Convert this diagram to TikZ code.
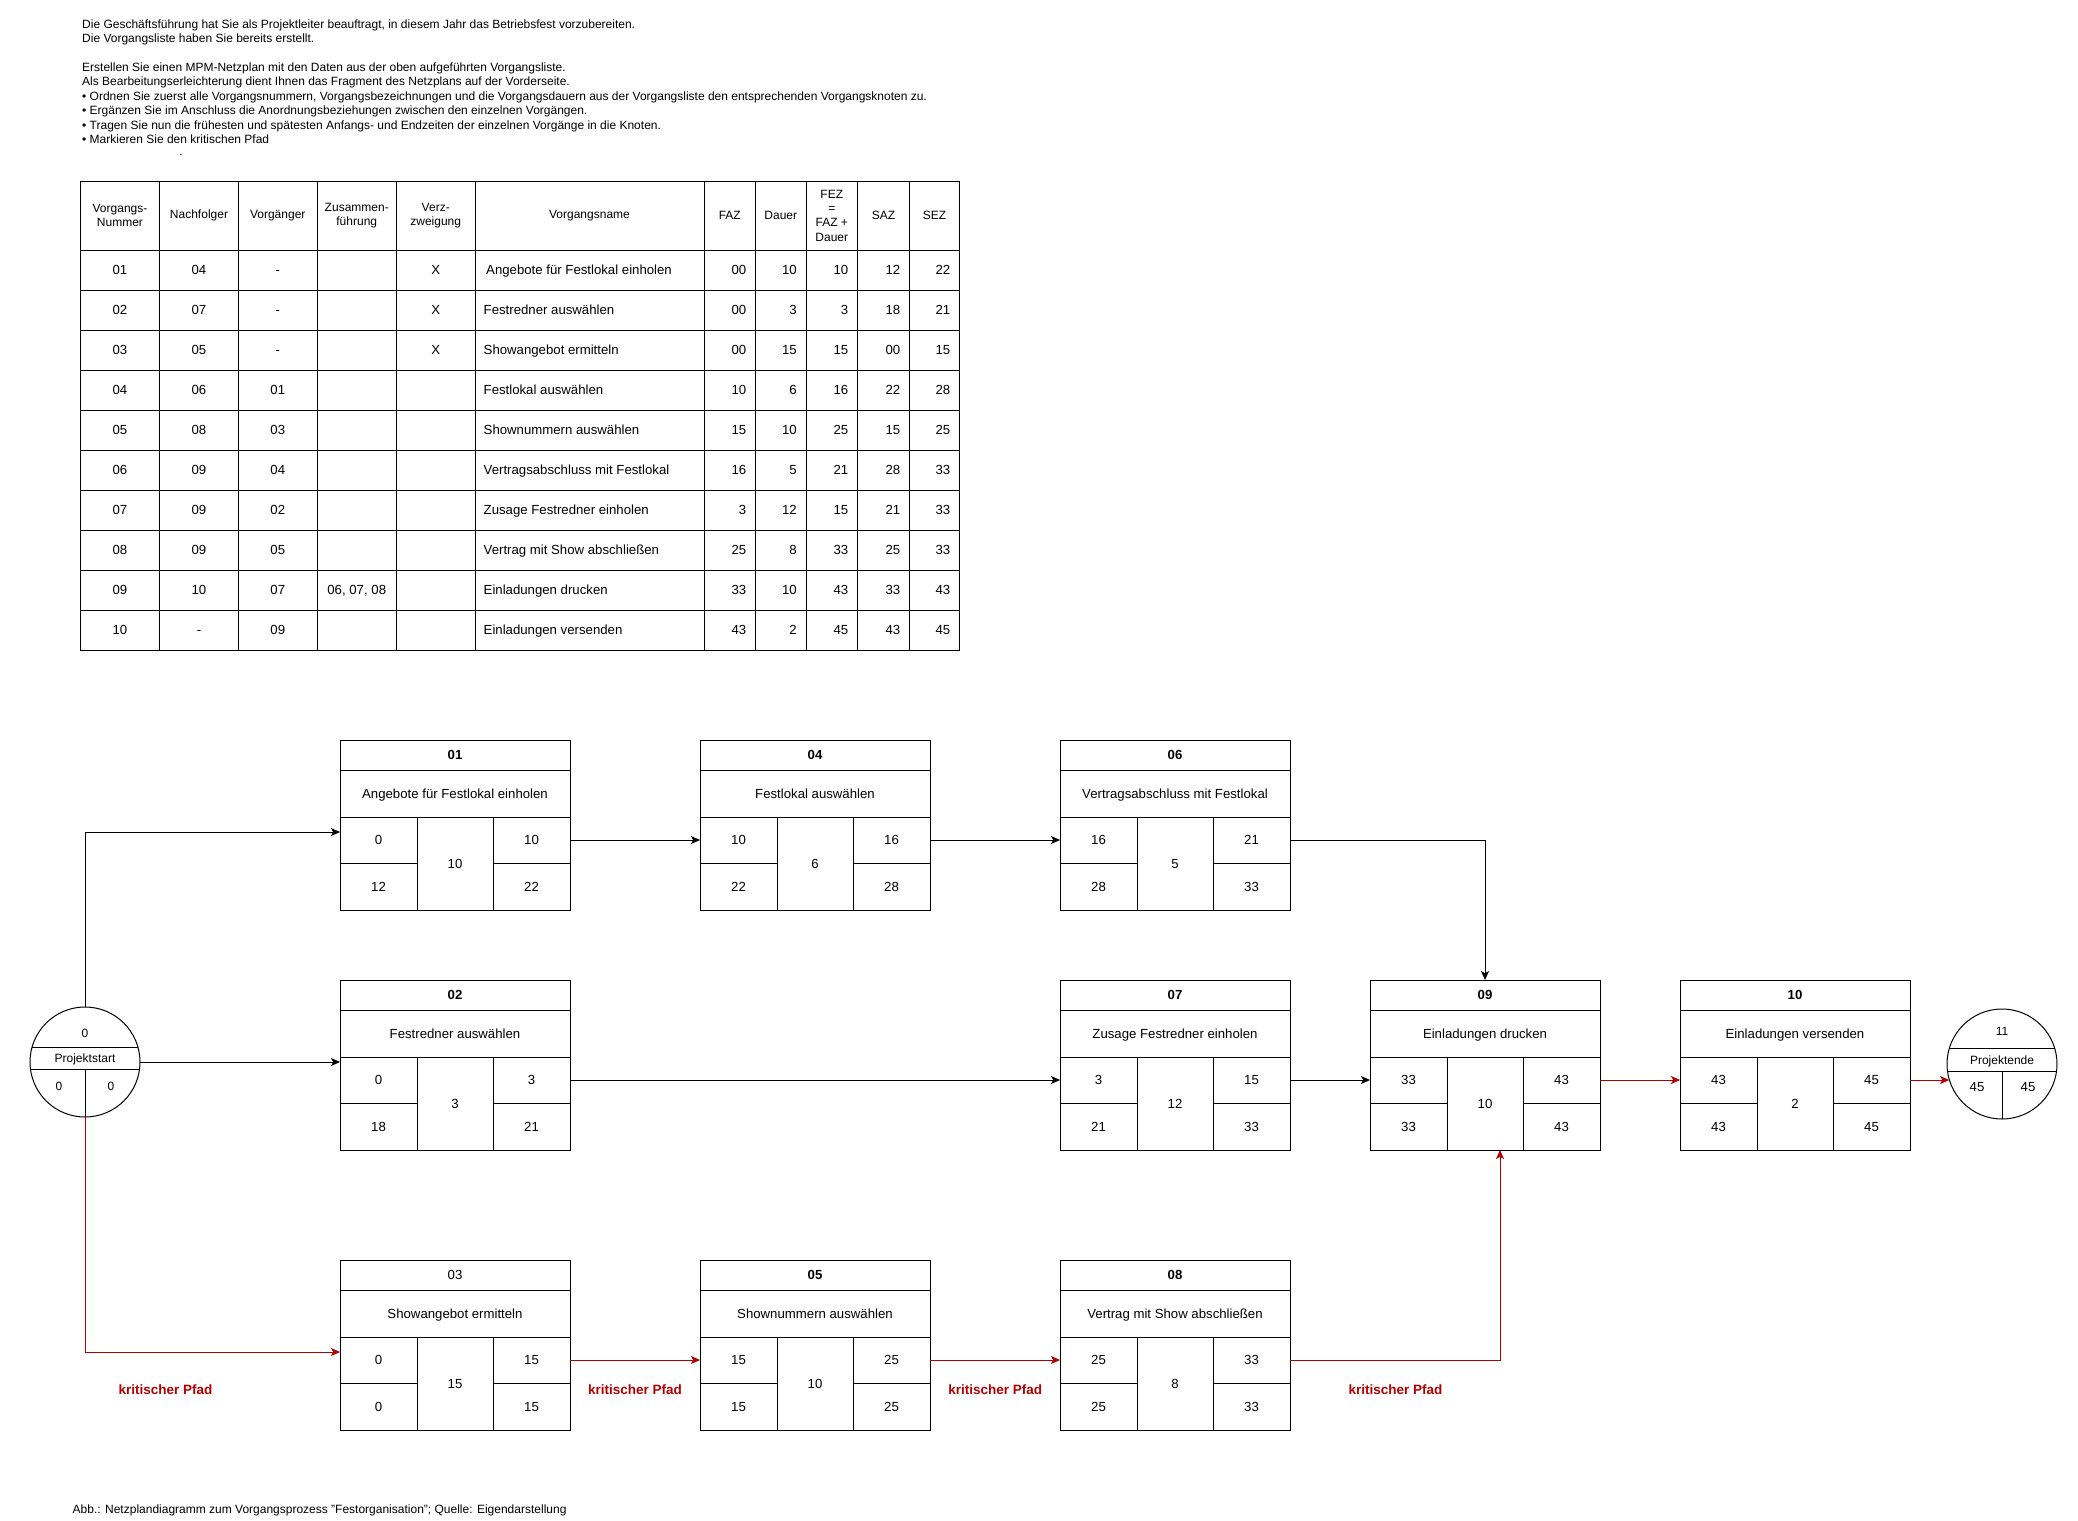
\documentclass[tikz,border=0pt]{standalone}
\usepackage{fontspec}
\setmainfont{Liberation Sans}
\usetikzlibrary{arrows.meta,calc}
\definecolor{critred}{HTML}{B20000}

\tikzset{
  frame/.style={line width=1pt},
  actbox/.style={draw, line width=1pt, minimum width=230pt, minimum height=170pt,
    inner sep=0pt, outer sep=0pt, anchor=north west},
  cell/.style={inner sep=0pt, font=\fontsize{13.2}{15}\selectfont, text height=9.45pt, text depth=0pt},
  small/.style={inner sep=0pt, font=\fontsize{12}{14.4}\selectfont, text height=8.6pt, text depth=0pt},
  headtext/.style={inner sep=0pt, align=center, font=\fontsize{12}{14.3}\selectfont},
  arr/.style={line width=1pt, -{Stealth[length=9pt, width=8pt, inset=2.2pt]}},
  crit/.style={arr, draw=critred, color=critred},
  critlabel/.style={inner sep=0pt, font=\fontsize{13.5}{15}\selectfont\bfseries, text=critred,
    text height=9.7pt, text depth=0pt},
}

% activity box: name, top-left corner, number, title, FAZ, duration, FEZ, SAZ, SEZ
\newcommand\actnode[9]{%
  \node[actbox] (#1) at (#2) {};
  \draw[frame]
    ($(#1.north west)+(0,30)$) -- ($(#1.north east)+(0,30)$)
    ($(#1.north west)+(0,77)$) -- ($(#1.north east)+(0,77)$)
    ($(#1.north west)+(77,77)$) -- ($(#1.south west)+(77,0)$)
    ($(#1.north west)+(153,77)$) -- ($(#1.south west)+(153,0)$)
    ($(#1.north west)+(0,123.5)$) -- ($(#1.north west)+(77,123.5)$)
    ($(#1.north west)+(153,123.5)$) -- ($(#1.north east)+(0,123.5)$);
  \node[cell] (#1-nr)  at ($(#1.north west)+(115,15)$) {#3};
  \node[cell] (#1-ttl) at ($(#1.north west)+(115,54)$) {#4};
  \node[cell] (#1-faz) at ($(#1.north west)+(38.5,100)$) {#5};
  \node[cell] (#1-dur) at ($(#1.north west)+(115,123.5)$) {#6};
  \node[cell] (#1-fez) at ($(#1.north west)+(191.5,100)$) {#7};
  \node[cell] (#1-saz) at ($(#1.north west)+(38.5,146.75)$) {#8};
  \node[cell] (#1-sez) at ($(#1.north west)+(191.5,146.75)$) {#9};
  \coordinate (#1-ol) at ($(#1.north west)+(0,100)$);
  \coordinate (#1-or) at ($(#1.north east)+(0,100)$);
}

\begin{document}
\begin{tikzpicture}[x=1pt, y=-1pt]
\fill[white] (0,0) rectangle (2078,1521);
\useasboundingbox (0,0) rectangle (2078,1521);

% ---------- task description ----------
\node[small, anchor=west] (intro1) at (82,24) {Die Geschäftsführung hat Sie als Projektleiter beauftragt, in diesem Jahr das Betriebsfest vorzubereiten.};
\node[small, anchor=west] (intro2) at (82,38.4) {Die Vorgangsliste haben Sie bereits erstellt.};
\node[small, anchor=west] (intro3) at (82,67.2) {Erstellen Sie einen MPM-Netzplan mit den Daten aus der oben aufgeführten Vorgangsliste.};
\node[small, anchor=west] (intro4) at (82,81.6) {Als Bearbeitungserleichterung dient Ihnen das Fragment des Netzplans auf der Vorderseite.};
\node[small, anchor=west] (intro5) at (82,96) {• Ordnen Sie zuerst alle Vorgangsnummern, Vorgangsbezeichnungen und die Vorgangsdauern aus der Vorgangsliste den entsprechenden Vorgangsknoten zu.};
\node[small, anchor=west] (intro6) at (82,110.4) {• Ergänzen Sie im Anschluss die Anordnungsbeziehungen zwischen den einzelnen Vorgängen.};
\node[small, anchor=west] (intro7) at (82,124.8) {• Tragen Sie nun die frühesten und spätesten Anfangs- und Endzeiten der einzelnen Vorgänge in die Knoten.};
\node[small, anchor=west] (intro8) at (82,139.2) {• Markieren Sie den kritischen Pfad};
\node[inner sep=0pt, font=\fontsize{12}{14.4}\selectfont, anchor=base] (intro9) at (181,155.5) {.};

% ---------- activity list ----------
\draw[frame] (80.5,181) rectangle (959.5,650);
\foreach \yy in {250,290,...,610} \draw[frame] (80.5,\yy) -- (959.5,\yy);
\foreach \xx in {159.5,238.5,317,396.5,475,704,755.5,806,857.5,909.5} \draw[frame] (\xx,181) -- (\xx,650);

\node[headtext] (th1)  at (120,215.5)    {Vorgangs-\\Nummer};
\node[headtext] (th2)  at (199,215.5)    {Nachfolger};
\node[headtext] (th3)  at (277.75,215.5) {Vorgänger};
\node[headtext] (th4)  at (356.75,215.5) {Zusammen-\\führung};
\node[headtext] (th5)  at (435.75,215.5) {Verz-\\zweigung};
\node[headtext] (th6)  at (589.5,215.5)  {Vorgangsname};
\node[headtext] (th7)  at (729.75,215.5) {FAZ};
\node[headtext] (th8)  at (780.75,215.5) {Dauer};
\node[headtext] (th9)  at (831.75,215.5) {FEZ\\=\\FAZ +\\Dauer};
\node[headtext] (th10) at (883.5,215.5)  {SAZ};
\node[headtext] (th11) at (934.5,215.5)  {SEZ};

\foreach \rw/\ca/\cb/\cc/\cd/\ce/\cf/\cg/\ch/\ci/\cj/\ck in {
  1/01/04/-/{}/X/{\hspace*{2.5pt}Angebote für Festlokal einholen}/00/10/10/12/22,
  2/02/07/-/{}/X/{Festredner auswählen}/00/3/3/18/21,
  3/03/05/-/{}/X/{Showangebot ermitteln}/00/15/15/00/15,
  4/04/06/01/{}/{}/{Festlokal auswählen}/10/6/16/22/28,
  5/05/08/03/{}/{}/{Shownummern auswählen}/15/10/25/15/25,
  6/06/09/04/{}/{}/{Vertragsabschluss mit Festlokal}/16/5/21/28/33,
  7/07/09/02/{}/{}/{Zusage Festredner einholen}/3/12/15/21/33,
  8/08/09/05/{}/{}/{Vertrag mit Show abschließen}/25/8/33/25/33,
  9/09/10/07/{06, 07, 08}/{}/{Einladungen drucken}/33/10/43/33/43,
  10/10/-/09/{}/{}/{Einladungen versenden}/43/2/45/43/45}
{
  \node[cell] (t\rw-1) at (120,230+40*\rw) {\ca};
  \node[cell] (t\rw-2) at (199,230+40*\rw) {\cb};
  \node[cell] (t\rw-3) at (277.75,230+40*\rw) {\cc};
  \node[cell] (t\rw-4) at (356.75,230+40*\rw) {\cd};
  \node[cell] (t\rw-5) at (435.75,230+40*\rw) {\ce};
  \node[cell, anchor=west] (t\rw-6) at (483.5,230+40*\rw) {\cf};
  \node[cell, anchor=east] (t\rw-7) at (746.5,230+40*\rw) {\cg};
  \node[cell, anchor=east] (t\rw-8) at (797,230+40*\rw) {\ch};
  \node[cell, anchor=east] (t\rw-9) at (848.5,230+40*\rw) {\ci};
  \node[cell, anchor=east] (t\rw-10) at (900.5,230+40*\rw) {\cj};
  \node[cell, anchor=east] (t\rw-11) at (950.5,230+40*\rw) {\ck};
}

% ---------- network plan ----------
\actnode{n01}{340,740}{\textbf{01}}{Angebote für Festlokal einholen}{0}{10}{10}{12}{22}
\actnode{n04}{700,740}{\textbf{04}}{Festlokal auswählen}{10}{6}{16}{22}{28}
\actnode{n06}{1060,740}{\textbf{06}}{Vertragsabschluss mit Festlokal}{16}{5}{21}{28}{33}
\actnode{n02}{340,980}{\textbf{02}}{Festredner auswählen}{0}{3}{3}{18}{21}
\actnode{n07}{1060,980}{\textbf{07}}{Zusage Festredner einholen}{3}{12}{15}{21}{33}
\actnode{n09}{1370,980}{\textbf{09}}{Einladungen drucken}{33}{10}{43}{33}{43}
\actnode{n10}{1680,980}{\textbf{10}}{Einladungen versenden}{43}{2}{45}{43}{45}
\actnode{n03}{340,1260}{03}{Showangebot ermitteln}{0}{15}{15}{0}{15}
\actnode{n05}{700,1260}{\textbf{05}}{Shownummern auswählen}{15}{10}{25}{15}{25}
\actnode{n08}{1060,1260}{\textbf{08}}{Vertrag mit Show abschließen}{25}{8}{33}{25}{33}

% project start event
\node[draw, circle, line width=1pt, minimum size=110pt, inner sep=0pt, outer sep=0pt] (ps) at (85,1062) {};
\begin{scope}
  \clip (85,1062) circle [radius=55pt];
  \draw[frame] (20,1047) -- (150,1047) (20,1069.5) -- (150,1069.5) (85,1069.5) -- (85,1130);
\end{scope}
\node[small] (ps-nr)  at (85,1033)   {0};
\node[small] (ps-lbl) at (85,1058.3) {Projektstart};
\node[small] (ps-l)   at (59,1086)   {0};
\node[small] (ps-r)   at (111,1086)  {0};

% project end event
\node[draw, circle, line width=1pt, minimum size=110pt, inner sep=0pt, outer sep=0pt] (pe) at (2002,1064) {};
\begin{scope}
  \clip (2002,1064) circle [radius=55pt];
  \draw[frame] (1940,1048.5) -- (2065,1048.5) (1940,1071) -- (2065,1071) (2002,1071) -- (2002,1130);
\end{scope}
\node[small] (pe-nr)  at (2002,1031)   {11};
\node[small] (pe-lbl) at (2002,1059.8) {Projektende};
\node[cell]  (pe-l)   at (1977,1087)   {45};
\node[cell]  (pe-r)   at (2028,1087)   {45};

% entry points of the connectors
\coordinate (e01) at (340,832);
\coordinate (e03) at (340,1352);
\coordinate (e09) at (1500,1150);
\path (pe.196.9) coordinate (pein);

% precedence relations
\draw[arr] (ps.north) |- (e01);
\draw[arr] (ps.east) -- (ps.east -| n02.west);
\draw[arr] (n01-or) -- (n04-ol);
\draw[arr] (n04-or) -- (n06-ol);
\draw[arr] (n06-or) -| (n09.north);
\draw[arr] (n02-or) -- (n07-ol);
\draw[arr] (n07-or) -- (n09-ol);

% critical path
\draw[crit] (ps.south) |- (e03);
\draw[crit] (n03-or) -- (n05-ol);
\draw[crit] (n05-or) -- (n08-ol);
\draw[crit] (n08-or) -| (e09);
\draw[crit] (n09-or) -- (n10-ol);
\draw[crit] (n10-or) -- (n10-or -| pein);

\node[critlabel] (cp1) at (165.5,1390) {kritischer Pfad};
\node[critlabel] (cp2) at (635,1390)   {kritischer Pfad};
\node[critlabel] (cp3) at (995.3,1390) {kritischer Pfad};
\node[critlabel] (cp4) at (1395.6,1390) {kritischer Pfad};

% caption
\node[small, anchor=west] (caption) at (72.5,1509.5) {Abb.: Netzplandiagramm zum Vorgangsprozess "Festorganisation"; Quelle: Eigendarstellung};
\end{tikzpicture}
\end{document}
